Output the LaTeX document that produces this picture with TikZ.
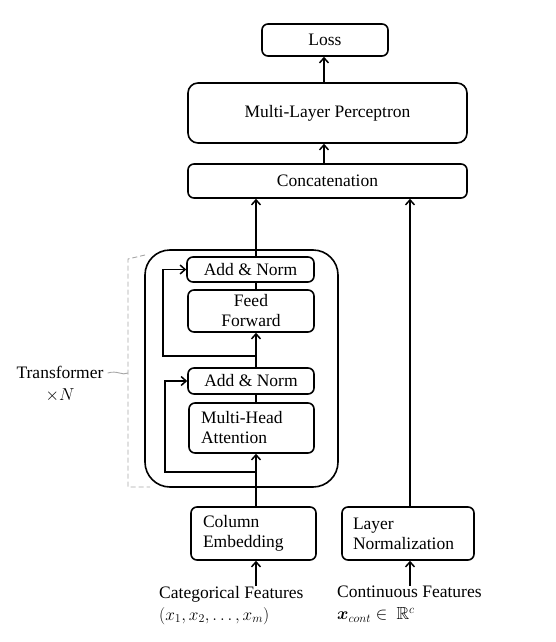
\documentclass[tikz,border=0pt]{standalone}
\usepackage{amsmath,amssymb}
\usepackage{fontspec}
\setmainfont{Liberation Serif}
\usetikzlibrary{arrows.meta}
\begin{document}
\begin{tikzpicture}[x=1pt,y=-1pt,
  box/.style={draw,line width=1.6pt,rounded corners=6pt,inner sep=0pt,font=\fontsize{17.5}{20}\selectfont},
  arr/.style={line width=1.8pt,-{Straight Barb[length=5pt,width=9pt,line width=1.5pt]}},
  ln/.style={line width=1.8pt},
  brk/.style={draw=gray!70,dashed,line width=0.9pt,dash pattern=on 5pt off 3pt}]
\useasboundingbox (0,0) rectangle (555,642);
% top
\node[box,minimum width=126pt,minimum height=32pt] (loss) at (325,40) {Loss};
\node[box,minimum width=279pt,minimum height=60pt,rounded corners=10pt] (mlp) at (327.5,113) {Multi-Layer Perceptron};
\node[box,minimum width=279pt,minimum height=34pt] (concat) at (327.5,181) {Concatenation};
% transformer block
\node[draw,line width=1.6pt,rounded corners=25pt,minimum width=193pt,minimum height=237pt] (outer) at (241.5,368.5) {};
\node[box,minimum width=127pt,minimum height=25pt] (an1) at (250.5,269.5) {Add \& Norm};
\node[box,minimum width=126pt,minimum height=42pt,align=center] (ff) at (251,311) {Feed\\Forward};
\node[box,minimum width=126pt,minimum height=26pt] (an2) at (251,381) {Add \& Norm};
\node[box,minimum width=125pt,minimum height=50pt,align=left,text width=101pt] (mha) at (251.5,428) {Multi-Head\\Attention};
% bottom boxes
\node[box,minimum width=125pt,minimum height=53pt,align=left,text width=101pt] (col) at (253.5,533.5) {Column\\Embedding};
\node[box,minimum width=132pt,minimum height=53pt,align=left,text width=110pt] (lnorm) at (408,533.5) {Layer\\Normalization};
% inputs
\node[anchor=north west,align=left,inner sep=0pt,font=\fontsize{17.5}{22}\selectfont] (catl) at (159,586) {Categorical Features\\$(x_1,x_2,\ldots,x_m)$};
\node[anchor=north west,align=left,inner sep=0pt,font=\fontsize{17.5}{22}\selectfont] (contl) at (337,586) {Continuous Features\\$\boldsymbol{x}_{cont}\in\ \mathbb{R}^c$};
% transformer label
\node[align=center,inner sep=1pt,font=\fontsize{17.5}{22}\selectfont] (tl) at (60,384) {Transformer\\$\times N$};
% coordinates
\coordinate (mx) at (256,0);
\coordinate (rx) at (410,0);
\coordinate (tx) at (324,0);
\coordinate (s1) at (256,356);
\coordinate (k1) at (163,356);
\coordinate (s2) at (256,472);
\coordinate (k2) at (165,472);
\coordinate (b1) at (145,255);
\coordinate (b2) at (128,259);
\coordinate (b3) at (128,487);
\coordinate (b4) at (150,487);
\coordinate (bt) at (128,373);
% connectors
\draw[arr] (catl.north -| mx) ++(0,0) coordinate (ci) (ci |- catl.north) -- (col.south -| mx);
\draw[arr] (contl.north -| rx) -- (lnorm.south -| rx);
\draw[arr] (col.north -| mx) -- (mha.south -| mx);
\draw[ln] (mha.north -| mx) -- (an2.south -| mx);
\draw[arr] (an2.north -| mx) -- (ff.south -| mx);
\draw[ln] (ff.north -| mx) -- (an1.south -| mx);
\draw[arr] (an1.north -| mx) -- (concat.south -| mx);
\draw[arr] (lnorm.north -| rx) -- (concat.south -| rx);
\draw[arr] (concat.north -| tx) -- (mlp.south -| tx);
\draw[arr] (mlp.north -| tx) -- (loss.south -| tx);
\draw[arr] (s1) -- (k1) |- (an1.west);
\draw[arr] (s2) -- (k2) |- (an2.west);
% bracket
\draw[brk] (b1) -- (b2) -- (b3) -- (b4);
\draw[draw=gray!70,line width=0.9pt] (tl.east |- bt) ++(3,0) coordinate (t0) (t0) .. controls (118,370) and (122,376) .. (bt);
\end{tikzpicture}
\end{document}
